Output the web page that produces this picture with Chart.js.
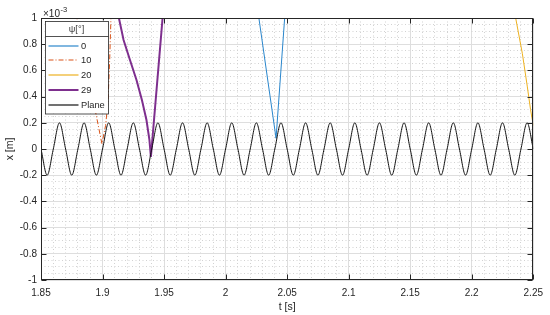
<!DOCTYPE html>
<html><head><meta charset="utf-8">
<style>html,body{margin:0;padding:0;background:#fff}#wrap{width:550px;height:315px;position:relative}</style>
<script src="https://cdn.jsdelivr.net/npm/chart.js@4.4.0/dist/chart.umd.min.js"></script>
</head><body><div id="wrap"><canvas id="c" width="550" height="315"></canvas></div>
<script>
// Values of x are in units of 10^-3 m
const seriesNames = ['0', '10', '20', '29', 'Plane'];
const legendTitle = 'ψ[°]';
const xTicks = [1.85, 1.9, 1.95, 2, 2.05, 2.1, 2.15, 2.2, 2.25];
const xTickLabels = ['1.85', '1.9', '1.95', '2', '2.05', '2.1', '2.15', '2.2', '2.25'];
const yTicks = [-1, -0.8, -0.6, -0.4, -0.2, 0, 0.2, 0.4, 0.6, 0.8, 1];
const yTickLabels = ['-1', '-0.8', '-0.6', '-0.4', '-0.2', '0', '0.2', '0.4', '0.6', '0.8', '1'];

const psi0T = [2.0240, 2.0410, 2.0495];
const psi0X = [1.20, 0.082, 1.20];

const psi10T = [1.8748, 1.8995, 1.9025, 1.9045, 1.9058, 1.9075];
const psi10X = [1.20, 0.04, 0.18, 0.37, 0.68, 1.20];

const psi20T = [2.2320, 2.2357, 2.2411, 2.2451, 2.2478, 2.2500];
const psi20X = [1.20, 1.00, 0.73, 0.48, 0.30, 0.18];

const psi29T = [1.9088, 1.9133, 1.9171, 1.9223, 1.9276, 1.9320, 1.9357, 1.9381, 1.9393, 1.9488, 1.9506];
const psi29X = [1.20, 1.00, 0.832, 0.679, 0.527, 0.374, 0.221, 0.069, -0.061, 1.00, 1.20];

const planeT = [1.85,1.855,1.86,1.865,1.87,1.875,1.88,1.885,1.89,1.895,
 1.9,1.905,1.91,1.915,1.92,1.925,1.93,1.935,1.94,1.945,
 1.95,1.955,1.96,1.965,1.97,1.975,1.98,1.985,1.99,1.995,
 2,2.005,2.01,2.015,2.02,2.025,2.03,2.035,2.04,2.045,
 2.05,2.055,2.06,2.065,2.07,2.075,2.08,2.085,2.09,2.095,
 2.1,2.105,2.11,2.115,2.12,2.125,2.13,2.135,2.14,2.145,
 2.15,2.155,2.16,2.165,2.17,2.175,2.18,2.185,2.19,2.195,
 2.2,2.205,2.21,2.215,2.22,2.225,2.23,2.235,2.24,2.245,
 2.25];
const planeX = [0,-0.2,0,0.2,0,-0.2,0,0.2,0,-0.2,
 0,0.2,0,-0.2,0,0.2,0,-0.2,0,0.2,
 0,-0.2,0,0.2,0,-0.2,0,0.2,0,-0.2,
 0,0.2,0,-0.2,0,0.2,0,-0.2,0,0.2,
 0,-0.2,0,0.2,0,-0.2,0,0.2,0,-0.2,
 0,0.2,0,-0.2,0,0.2,0,-0.2,0,0.2,
 0,-0.2,0,0.2,0,-0.2,0,0.2,0,-0.2,
 0,0.2,0,-0.2,0,0.2,0,-0.2,0,0.2,
 0];

const toXY = (t, v) => t.map((tt, i) => ({x: tt, y: v[i]}));
const FONT = "'Liberation Sans', Arial, Helvetica, sans-serif";
const INK = '#262626';

const isMajor = (v, step) => Math.abs(v / step - Math.round(v / step)) < 1e-6;
const findLabel = (v, ticks, labels) => {
  for (let i = 0; i < ticks.length; i++) if (Math.abs(v - ticks[i]) < 1e-7) return labels[i];
  return '';
};

const matlabAxes = {
  id: 'matlabAxes',
  afterDatasetsDraw(chart) {
    const {ctx, chartArea: a, scales: {x, y}} = chart;
    ctx.save();
    ctx.strokeStyle = INK;
    ctx.lineWidth = 1;
    ctx.beginPath();
    const L = Math.round(a.left) + 0.5, R = Math.round(a.right) - 0.5;
    const T = Math.round(a.top) + 0.5, B = Math.round(a.bottom) - 0.5;
    xTicks.forEach(v => {
      const px = Math.round(x.getPixelForValue(v)) + 0.5;
      ctx.moveTo(px, B); ctx.lineTo(px, B - 5);
      ctx.moveTo(px, T); ctx.lineTo(px, T + 5);
    });
    yTicks.forEach(v => {
      const py = Math.round(y.getPixelForValue(v)) + 0.5;
      ctx.moveTo(L, py); ctx.lineTo(L + 5, py);
      ctx.moveTo(R, py); ctx.lineTo(R - 5, py);
    });
    ctx.stroke();
    ctx.strokeRect(L, T, R - L, B - T);

    // exponent label
    ctx.fillStyle = INK;
    ctx.textBaseline = 'alphabetic';
    ctx.textAlign = 'left';
    ctx.font = '10px ' + FONT;
    ctx.fillText('×10', a.left + 2, a.top - 1.5);
    const w = ctx.measureText('×10').width;
    ctx.font = '7.5px ' + FONT;
    ctx.fillText('-3', a.left + 2 + w + 0.5, a.top - 6.5);

    // legend
    const lx = a.left + 4, ly = a.top + 2.5, lw = 63, lh = 92.5;
    ctx.fillStyle = '#ffffff';
    ctx.fillRect(lx, ly, lw, lh);
    ctx.strokeStyle = INK;
    ctx.lineWidth = 0.8;
    ctx.strokeRect(Math.round(lx) + 0.5, Math.round(ly) + 0.5, lw, lh);
    ctx.beginPath();
    ctx.moveTo(Math.round(lx) + 0.5, Math.round(ly + 15.5) + 0.5);
    ctx.lineTo(Math.round(lx) + 0.5 + lw, Math.round(ly + 15.5) + 0.5);
    ctx.stroke();
    ctx.fillStyle = '#404040';
    ctx.font = '9.3px ' + FONT;
    ctx.textAlign = 'center';
    ctx.textBaseline = 'middle';
    ctx.fillText(legendTitle, lx + lw / 2, ly + 8.5);
    const ds = chart.data.datasets;
    ctx.textAlign = 'left';
    seriesNames.forEach((name, i) => {
      const d = ds[i];
      const yy = Math.round(ly + 25 + i * 14.8);
      ctx.save();
      ctx.strokeStyle = d.borderColor;
      ctx.lineWidth = Math.max(d.borderWidth, 1.2);
      ctx.setLineDash(d.borderDash || []);
      ctx.beginPath();
      ctx.moveTo(lx + 3.5, yy);
      ctx.lineTo(lx + 33.5, yy);
      ctx.stroke();
      ctx.restore();
      ctx.fillStyle = INK;
      ctx.fillText(name, lx + 36, yy + 0.5);
    });
    ctx.restore();
  }
};

const lineBase = {pointRadius: 0, pointHoverRadius: 0, fill: false, clip: 0, tension: 0};

new Chart(document.getElementById('c'), {
  type: 'line',
  data: {
    datasets: [
      Object.assign({}, lineBase, {label: seriesNames[0], data: toXY(psi0T, psi0X), borderColor: '#2a86cc', borderWidth: 1, order: 5}),
      Object.assign({}, lineBase, {label: seriesNames[1], data: toXY(psi10T, psi10X), borderColor: '#D95319', borderWidth: 1, borderDash: [5, 2, 1, 2], order: 4}),
      Object.assign({}, lineBase, {label: seriesNames[2], data: toXY(psi20T, psi20X), borderColor: '#EDB120', borderWidth: 1, order: 3}),
      Object.assign({}, lineBase, {label: seriesNames[3], data: toXY(psi29T, psi29X), borderColor: '#7E2F8E', borderWidth: 2, order: 2}),
      Object.assign({}, lineBase, {label: seriesNames[4], data: toXY(planeT, planeX), borderColor: '#111111', borderWidth: 1, order: 1, cubicInterpolationMode: 'monotone'})
    ]
  },
  options: {
    responsive: false,
    animation: false,
    devicePixelRatio: 1,
    layout: {padding: {top: 18, right: 14, left: 0, bottom: 0}},
    plugins: {legend: {display: false}, tooltip: {enabled: false}},
    scales: {
      x: {
        type: 'linear', min: 1.85, max: 2.25,
        afterFit: s => { s.height = 35; },
        ticks: {
          stepSize: 0.01, maxTicksLimit: 100, autoSkip: false, maxRotation: 0, padding: 7,
          color: INK, font: {family: FONT, size: 10},
          callback: v => isMajor(v, 0.05) ? findLabel(v, xTicks, xTickLabels) : ''
        },
        grid: {
          drawTicks: false, lineWidth: 1,
          color: c => (c.tick && isMajor(c.tick.value, 0.05)) ? '#dedede' : '#d2d2d2'
        },
        border: {display: false, dash: c => (c.tick && !isMajor(c.tick.value, 0.05)) ? [1, 2.5] : []},
        title: {display: true, text: 't [s]', color: INK, font: {family: FONT, size: 10.5}, padding: {top: 0, bottom: 1.5}}
      },
      y: {
        type: 'linear', min: -1, max: 1,
        afterFit: s => { s.width = 41; },
        ticks: {
          stepSize: 0.05, maxTicksLimit: 100, autoSkip: false, padding: 4,
          color: INK, font: {family: FONT, size: 10},
          callback: v => isMajor(v, 0.2) ? findLabel(v, yTicks, yTickLabels) : ''
        },
        grid: {
          drawTicks: false, lineWidth: 1,
          color: c => (c.tick && isMajor(c.tick.value, 0.2)) ? '#dedede' : '#d2d2d2'
        },
        border: {display: false, dash: c => (c.tick && !isMajor(c.tick.value, 0.2)) ? [1, 2.5] : []},
        title: {display: true, text: 'x [m]', color: INK, font: {family: FONT, size: 10.5}, padding: {top: 3.5, bottom: 0}}
      }
    }
  },
  plugins: [matlabAxes]
});
</script>
</body></html>
